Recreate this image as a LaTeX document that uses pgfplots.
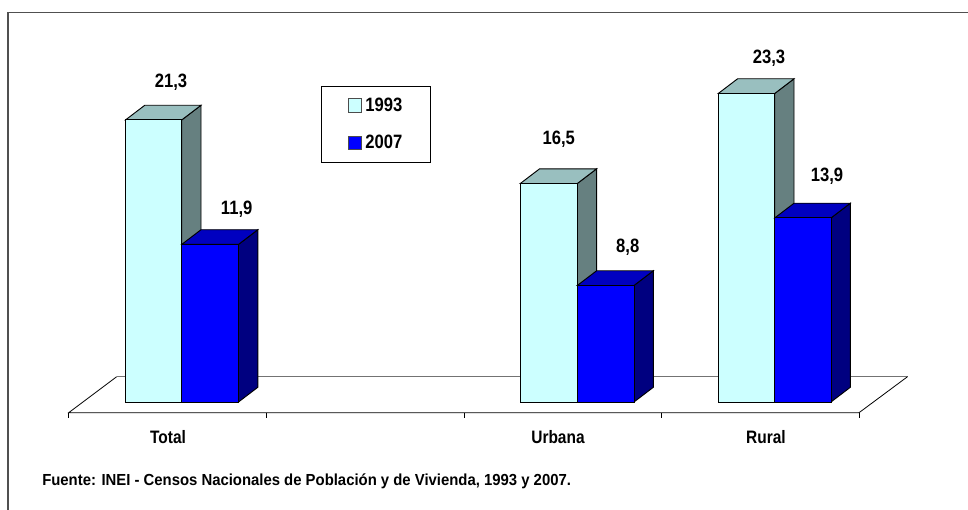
\documentclass[border=0pt]{standalone}
\usepackage{fontspec}
\setmainfont[FakeStretch=0.86]{Liberation Sans}
\newfontfamily\srcfont[FakeStretch=0.93]{Liberation Sans}
\usepackage{pgfplots}
\pgfplotsset{compat=1.18}
\definecolor{paleface}{HTML}{CCFFFF}
\definecolor{paletop}{HTML}{99BFBF}
\definecolor{paleside}{HTML}{668080}
\definecolor{blueface}{HTML}{0000FF}
\definecolor{bluetop}{HTML}{0000C0}
\definecolor{blueside}{HTML}{000080}
\definecolor{framegray}{HTML}{505050}
\newcommand{\lab}{\fontsize{14.5}{14.5}\selectfont\bfseries}
\newcommand{\cat}{\fontsize{13.5}{13.5}\selectfont\bfseries}

\begin{document}
\begin{tikzpicture}
\useasboundingbox (0,0) rectangle (726pt,382.5pt);
\begin{axis}[
  at={(0,0)}, anchor=south west,
  width=726pt, height=382.5pt, scale only axis,
  hide axis, clip=false,
  % x in picture pixels, y in the chart's own units (13.24 px per unit)
  xmin=0, xmax=968, ymin=-8.157, ymax=30.36,
  every axis plot/.append style={forget plot, line width=0.7pt, draw=black, mark=none},
  legend image code/.code={\draw[#1, draw=black!70, line width=0.5pt] (0pt,-5pt) rectangle (10pt,5pt);},
  legend style={
    at={(axis cs:321,23.87)}, anchor=north west,
    draw=black, line width=0.6pt,
    font=\lab,
    inner xsep=20pt, inner ysep=7.5pt,
    row sep=14.5pt, column sep=1.5pt, legend cell align=left,
    nodes={inner sep=1pt}},
]
\addlegendimage{fill=paleface}
\addlegendentry{1993}
\addlegendimage{fill=blueface}
\addlegendentry{2007}

% frame, left and top edges only
\addplot[draw=framegray, line width=1pt] coordinates {(8,-8.157)(8,29.42)(968,29.42)};

% floor
\addplot[fill=white, draw=none] coordinates {(68.7,-0.81)(859,-0.81)(907.5,1.91)(116.7,1.91)} -- cycle;
\addplot[draw=black!55, line width=0.8pt] coordinates {(116.7,1.91)(907.5,1.91)};
\addplot[line width=0.6pt] coordinates {(116.7,1.91)(68.7,-0.81)(859,-0.81)(907.5,1.91)};
\addplot[line width=0.6pt] coordinates {(68.7,-0.81)(68.7,-1.21)};
\addplot[line width=0.6pt] coordinates {(266.3,-0.81)(266.3,-1.21)};
\addplot[line width=0.6pt] coordinates {(464,-0.81)(464,-1.21)};
\addplot[line width=0.6pt] coordinates {(661.6,-0.81)(661.6,-1.21)};
\addplot[line width=0.6pt] coordinates {(859,-0.81)(859,-1.21)};

% Total 1993
\addplot[fill=paleside] coordinates {(181.7,0)(201,1.11)(201,22.41)(181.7,21.3)} -- cycle;
\addplot[fill=paletop] coordinates {(125.5,21.3)(181.7,21.3)(201,22.41)(144.8,22.41)} -- cycle;
\addplot[fill=paleface] coordinates {(125.5,0)(181.7,0)(181.7,21.3)(125.5,21.3)} -- cycle;
% Total 2007
\addplot[fill=blueside] coordinates {(238.5,0)(257.8,1.11)(257.8,13.01)(238.5,11.9)} -- cycle;
\addplot[fill=bluetop] coordinates {(181.7,11.9)(238.5,11.9)(257.8,13.01)(201,13.01)} -- cycle;
\addplot[fill=blueface] coordinates {(181.7,0)(238.5,0)(238.5,11.9)(181.7,11.9)} -- cycle;

% Urbana 1993
\addplot[fill=paleside] coordinates {(577.3,0)(596.6,1.11)(596.6,17.61)(577.3,16.5)} -- cycle;
\addplot[fill=paletop] coordinates {(520.3,16.5)(577.3,16.5)(596.6,17.61)(539.6,17.61)} -- cycle;
\addplot[fill=paleface] coordinates {(520.3,0)(577.3,0)(577.3,16.5)(520.3,16.5)} -- cycle;
% Urbana 2007
\addplot[fill=blueside] coordinates {(634,0)(653.3,1.11)(653.3,9.91)(634,8.8)} -- cycle;
\addplot[fill=bluetop] coordinates {(577.3,8.8)(634,8.8)(653.3,9.91)(596.6,9.91)} -- cycle;
\addplot[fill=blueface] coordinates {(577.3,0)(634,0)(634,8.8)(577.3,8.8)} -- cycle;

% Rural 1993
\addplot[fill=paleside] coordinates {(774.7,0)(794,1.11)(794,24.41)(774.7,23.3)} -- cycle;
\addplot[fill=paletop] coordinates {(718.3,23.3)(774.7,23.3)(794,24.41)(737.6,24.41)} -- cycle;
\addplot[fill=paleface] coordinates {(718.3,0)(774.7,0)(774.7,23.3)(718.3,23.3)} -- cycle;
% Rural 2007
\addplot[fill=blueside] coordinates {(831,0)(850.3,1.11)(850.3,15.01)(831,13.9)} -- cycle;
\addplot[fill=bluetop] coordinates {(774.7,13.9)(831,13.9)(850.3,15.01)(794,15.01)} -- cycle;
\addplot[fill=blueface] coordinates {(774.7,0)(831,0)(831,13.9)(774.7,13.9)} -- cycle;

% value labels
\node[font=\lab] at (axis cs:171,24.17) {21,3};
\node[font=\lab] at (axis cs:236.7,14.58) {11,9};
\node[font=\lab] at (axis cs:558.7,19.86) {16,5};
\node[font=\lab] at (axis cs:627.7,11.71) {8,8};
\node[font=\lab] at (axis cs:769,25.98) {23,3};
\node[font=\lab] at (axis cs:827,17.02) {13,9};

% category labels
\node[font=\cat] at (axis cs:168,-2.64) {Total};
\node[font=\cat] at (axis cs:558,-2.64) {Urbana};
\node[font=\cat] at (axis cs:766,-2.64) {Rural};

% source
\node[anchor=west, inner sep=0pt, font=\srcfont\fontsize{12}{12}\selectfont\bfseries] at (axis cs:42,-5.97)
  {Fuente: INEI - Censos Nacionales de Población y de Vivienda, 1993 y 2007.};
\end{axis}
\end{tikzpicture}
\end{document}
